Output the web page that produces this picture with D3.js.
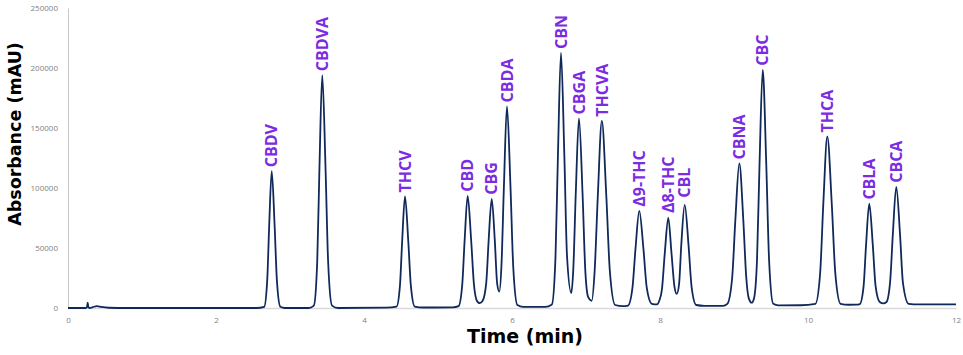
<!DOCTYPE html>
<html>
<head>
<meta charset="utf-8">
<script src="https://cdn.jsdelivr.net/npm/d3@7"></script>
<style>
    html, body { margin: 0; padding: 0; background: #fff; }
    .tick text { font-family: "Open Sans", sans-serif; font-size: 8px; fill: #7f7f7f; }
    .axis-title { font-family: "DejaVu Sans", Verdana, sans-serif; font-weight: bold; fill: #000; }
    .peak-label { font-family: "Open Sans", sans-serif; font-weight: bold; font-size: 16px; fill: #7b2be2; }
</style>
</head>
<body>
<div id="chart"></div>
<script>
// Peak names, retention times (min) and apex heights (mAU)
const peakNames = ['CBDV', 'CBDVA', 'THCV', 'CBD', 'CBG', 'CBDA', 'CBN', 'CBGA', 'THCVA',
    'Δ9-THC', 'Δ8-THC', 'CBL', 'CBNA', 'CBC', 'THCA', 'CBLA', 'CBCA'];
const peakTimes = [2.753, 3.436, 4.554, 5.401, 5.726, 5.932, 6.662, 6.905, 7.214,
    7.720, 8.112, 8.334, 9.072, 9.388, 10.261, 10.828, 11.193];
const peakHeights = [114000, 194000, 93000, 93500, 91000, 168000, 212500, 158000, 156000,
    81000, 75000, 86000, 120500, 198500, 143000, 87000, 101000];

// Extra gap (px) between apex and label, some labels sit a bit higher
const labelGap = [4, 4, 4, 4, 4, 4, 4, 4, 4, 4, 5, 7, 4, 4, 4, 4, 4];

// Detector trace, [time (min), absorbance (mAU)] points
const trace = [
    [0, 0], [0.24, 0], [0.255, 600], [0.266, 4400], [0.275, 800], [0.29, 0],
    [0.33, 600], [0.39, 1600], [0.45, 900], [0.55, 200], [0.8, 0], [1.5, 0], [2.55, 0],
    // CBDV
    [2.651, 1000], [2.692, 23000], [2.719, 69000], [2.753, 114000], [2.792, 69000],
    [2.823, 23000], [2.87, 1000], [2.93, 0],
    // CBDVA
    [3.25, 0], [3.322, 2000], [3.368, 39000], [3.398, 117000], [3.436, 194000],
    [3.480, 117000], [3.515, 39000], [3.568, 2000], [3.65, 0],
    // THCV
    [4.3, 300], [4.44, 1200], [4.486, 18800], [4.516, 56000], [4.554, 93000],
    [4.598, 56000], [4.633, 18800], [4.686, 1200], [4.8, 400],
    // CBD, CBG, CBDA
    [5.2, 500], [5.278, 1500], [5.327, 19000], [5.36, 56500], [5.401, 93500],
    [5.448, 56500], [5.486, 19500], [5.53, 5500], [5.565, 4000],
    [5.603, 6000], [5.652, 21000], [5.685, 57000], [5.726, 91000], [5.767, 57000],
    [5.80, 20000], [5.829, 13600], [5.858, 36000], [5.891, 102000], [5.932, 168000],
    [5.979, 102000], [6.017, 34000], [6.073, 2500], [6.15, 1000],
    // CBN, CBGA, THCVA
    [6.45, 1000], [6.539, 3000], [6.588, 43000], [6.621, 128000], [6.662, 212500],
    [6.707, 128000], [6.743, 44000], [6.801, 12500], [6.828, 32000], [6.862, 96000],
    [6.905, 158000], [6.953, 96000], [6.99, 32000], [7.03, 9000], [7.077, 6000],
    [7.117, 31000], [7.16, 94000], [7.214, 156000], [7.274, 94000], [7.322, 31000],
    [7.394, 2500], [7.5, 1500],
    // Δ9-THC, Δ8-THC, CBL
    [7.567, 2000], [7.628, 17000], [7.669, 49500], [7.720, 81000], [7.776, 49500],
    [7.821, 17000], [7.89, 3500], [7.959, 3000], [7.99, 6000], [8.027, 16000],
    [8.065, 46000], [8.112, 75000], [8.155, 46000], [8.195, 18000], [8.226, 11700],
    [8.258, 20000], [8.287, 52000], [8.334, 86000], [8.386, 52000], [8.428, 17000],
    [8.49, 2500], [8.6, 1800],
    // CBNA, CBC
    [8.85, 1800], [8.91, 3500], [8.975, 25000], [9.018, 73000], [9.072, 120500],
    [9.126, 73000], [9.165, 26000], [9.2, 8000], [9.239, 4400], [9.27, 8000],
    [9.311, 40000], [9.345, 120000], [9.388, 198500], [9.436, 120000], [9.474, 40000],
    [9.53, 3500], [9.6, 2200],
    // THCA
    [9.9, 2300], [10.1, 3500], [10.164, 29000], [10.207, 87000], [10.261, 143000],
    [10.321, 87000], [10.369, 29000], [10.44, 3500], [10.55, 2700],
    // CBLA, CBCA
    [10.65, 2800], [10.70, 3300], [10.751, 18000], [10.785, 53000], [10.828, 87000],
    [10.875, 53000], [10.913, 18500], [10.97, 5000], [11.018, 3800], [11.06, 5000],
    [11.11, 22000], [11.147, 62000], [11.193, 101000], [11.243, 62000], [11.283, 21000],
    [11.36, 3500], [11.5, 3000], [12, 3100]
];

const xTicks = [0, 2, 4, 6, 8, 10, 12];
const yTicks = [0, 50000, 100000, 150000, 200000, 250000];

const width = 963;
const height = 355;
const margin = { top: 8, right: 7, bottom: 47, left: 68 };

const svg = d3.select('#chart')
    .append('svg')
    .attr('width', width)
    .attr('height', height);

const x = d3.scaleLinear()
    .domain([0, 12])
    .range([margin.left, width - margin.right]);

const y = d3.scaleLinear()
    .domain([0, 250000])
    .range([height - margin.bottom, margin.top]);

// Axes
const yAxis = svg.append('g')
    .attr('transform', `translate(${margin.left},0)`)
    .call(d3.axisLeft(y)
        .tickValues(yTicks)
        .tickFormat(d3.format('d'))
        .tickSize(0)
        .tickPadding(10));
yAxis.select('.domain').attr('stroke', '#c8c8c8');

const xAxis = svg.append('g')
    .attr('transform', `translate(0,${height - margin.bottom})`)
    .call(d3.axisBottom(x)
        .tickValues(xTicks)
        .tickFormat(d3.format('d'))
        .tickSize(0)
        .tickPadding(9));
xAxis.select('.domain').attr('stroke', '#d9d9d9').attr('stroke-width', 1.5);

// Trace
const line = d3.line()
    .x(d => x(d[0]))
    .y(d => y(d[1]))
    .curve(d3.curveMonotoneX);

svg.append('path')
    .datum(trace)
    .attr('fill', 'none')
    .attr('stroke', '#10295a')
    .attr('stroke-width', 1.8)
    .attr('stroke-linejoin', 'round')
    .attr('d', line);

// Peak labels, rotated above each apex
svg.append('g')
    .selectAll('text')
    .data(peakNames)
    .join('text')
    .attr('class', 'peak-label')
    .attr('transform', (d, i) =>
        `translate(${x(peakTimes[i])},${y(peakHeights[i]) - labelGap[i]}) rotate(-90)`)
    .attr('dy', '0.36em')
    .attr('text-anchor', 'start')
    .text(d => d);

// Axis titles
svg.append('text')
    .attr('class', 'axis-title')
    .attr('x', 525)
    .attr('y', 343)
    .attr('text-anchor', 'middle')
    .style('font-size', '19px')
    .text('Time (min)');

svg.append('text')
    .attr('class', 'axis-title')
    .attr('transform', 'translate(21,134) rotate(-90)')
    .attr('text-anchor', 'middle')
    .style('font-size', '17.5px')
    .text('Absorbance (mAU)');
</script>
</body>
</html>
